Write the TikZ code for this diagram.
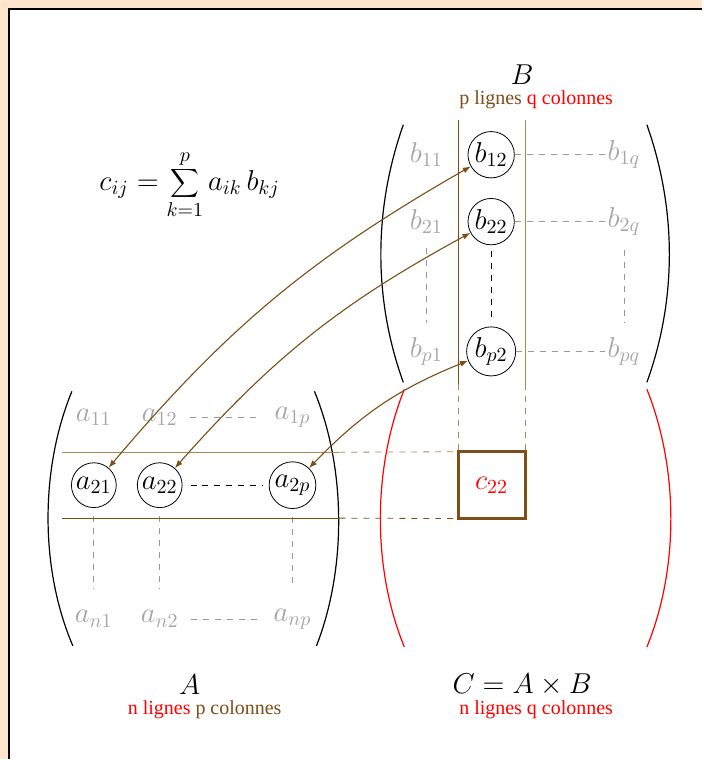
\documentclass[tikz,border=0pt]{standalone}
\usepackage[no-math]{fontspec}
\setmainfont{Liberation Serif}
\usetikzlibrary{positioning, arrows.meta}

\definecolor{peach}{RGB}{255,229,204}
\definecolor{rowbrown}{RGB}{125,78,22}
\definecolor{tanline}{RGB}{175,135,85}

\begin{document}
\begin{tikzpicture}[
        x=0.5pt, y=-0.5pt,
        elt/.style={font=\Large, inner sep=1pt},
        grayelt/.style={elt, text=gray!70},
        circelt/.style={elt, circle, draw=black, inner sep=1pt},
        cbox/.style={rectangle, draw=rowbrown, line width=1.4pt, minimum size=33.5pt, inner sep=0pt, outer sep=0pt, font=\Large, text=red},
        graydash/.style={dashed, gray!80, thin},
        blackdash/.style={dashed, black, thin},
        paren/.style={black, semithick},
        redparen/.style={red, semithick},
        arr/.style={{Latex[length=4pt,width=3pt]}-{Latex[length=4pt,width=3pt]}, rowbrown, line width=0.55pt},
    ]
        % Frame
        \fill[peach] (0,0) rectangle (703,760);
        \fill[white] (9,9) rectangle (703,760);
        \draw[black, line width=1.3pt] (9,760) -- (9,9) -- (703,9);
        \useasboundingbox (0,0) rectangle (703,760);

        % Formula
        \node[font=\Large] (formula) at (190,185) {$\displaystyle c_{ij}=\sum_{k=1}^{p}a_{ik}\,b_{kj}$};

        % Matrix B
        \node[grayelt] (b11) at (427,155) {$b_{11}$};
        \node[circelt] (b12) at (492,155) {$b_{12}$};
        \node[grayelt] (b1q) at (625,155) {$b_{1q}$};
        \node[grayelt] (b21) at (427,222) {$b_{21}$};
        \node[circelt] (b22) at (492,222) {$b_{22}$};
        \node[grayelt] (b2q) at (625,222) {$b_{2q}$};
        \node[grayelt] (bp1) at (427,352) {$b_{p1}$};
        \node[circelt] (bp2) at (492,352) {$b_{p2}$};
        \node[grayelt] (bpq) at (625,352) {$b_{pq}$};

        \draw[graydash] (b12) -- (b1q);
        \draw[graydash] (b22) -- (b2q);
        \draw[graydash] (bp2) -- (bpq);
        \draw[graydash, shorten <=6pt, shorten >=6pt] (b21) -- (bp1);
        \draw[graydash, shorten <=6pt, shorten >=6pt] (b2q) -- (bpq);
        \draw[blackdash, shorten <=3pt, shorten >=3pt] (b22) -- (bp2);

        \draw[paren] (404,125) .. controls (374,210) and (374,300) .. (404,383);
        \draw[paren] (648,125) .. controls (678,210) and (678,300) .. (648,383);

        \node[font=\Large] (Bname) at (523,75) {$B$};
        \node (Bsize) at (537,100) {\textcolor{rowbrown}{p lignes} \textcolor{red}{q colonnes}};

        % Matrix A
        \node[grayelt] (a11) at (94,418) {$a_{11}$};
        \node[grayelt] (a12) at (160,418) {$a_{12}$};
        \node[grayelt] (a1p) at (293,418) {$a_{1p}$};
        \node[circelt] (a21) at (94,486) {$a_{21}$};
        \node[circelt] (a22) at (160,486) {$a_{22}$};
        \node[circelt] (a2p) at (293,486) {$a_{2p}$};
        \node[grayelt] (an1) at (94,620) {$a_{n1}$};
        \node[grayelt] (an2) at (160,620) {$a_{n2}$};
        \node[grayelt] (anp) at (293,620) {$a_{np}$};

        \draw[graydash, shorten <=5pt, shorten >=6pt] (a12) -- (a1p);
        \draw[blackdash, shorten <=4pt, shorten >=3pt] (a22) -- (a2p);
        \draw[graydash, shorten <=5pt, shorten >=6pt] (an2) -- (anp);
        \draw[graydash, shorten <=4pt, shorten >=10pt] (a21) -- (an1);
        \draw[graydash, shorten <=4pt, shorten >=10pt] (a22) -- (an2);
        \draw[graydash, shorten <=4pt, shorten >=10pt] (a2p) -- (anp);

        \draw[paren] (72,392) .. controls (40,470) and (40,570) .. (73,647);
        \draw[paren] (315,392) .. controls (347,470) and (347,570) .. (317,647);

        \node[font=\Large] (Aname) at (190,686) {$A$};
        \node (Asize) at (205,711) {\textcolor{red}{n lignes} \textcolor{rowbrown}{p colonnes}};

        % Matrix C
        \node[cbox] (c22) at (492.5,486) {$c_{22}$};

        \draw[redparen] (405,390) .. controls (373,470) and (373,570) .. (405,648);
        \draw[redparen] (648,390) .. controls (680,470) and (680,570) .. (648,648);

        \node[font=\Large] (Cname) at (523,686) {$C=A\times B$};
        \node[text=red] (Csize) at (537,711) {n lignes q colonnes};

        % Row of A and column of B
        \coordinate (rowtop) at (62,453);
        \coordinate (rowtopend) at (340,453);
        \coordinate (rowbot) at (62,519);
        \coordinate (rowbotend) at (340,519);
        \coordinate (coltop) at (459,120);
        \coordinate (coltopend) at (459,385);
        \coordinate (colright) at (526,120);
        \coordinate (colrightend) at (526,385);

        \draw[tanline, thin] (rowtop) -- (rowtopend);
        \draw[tanline, thin, dashed] (rowtopend) -- (c22.north west);
        \draw[rowbrown, thin] (rowbot) -- (rowbotend);
        \draw[rowbrown, thin, dashed] (rowbotend) -- (c22.south west);
        \draw[rowbrown, thin] (coltop) -- (coltopend);
        \draw[tanline, thin, dashed] (coltopend) -- (c22.north west);
        \draw[tanline, thin] (colright) -- (colrightend);
        \draw[tanline, thin, dashed] (colrightend) -- (c22.north east);

        % Products
        \draw[arr] (a21) to[bend left=10] (b12);
        \draw[arr] (a22) to[bend left=10] (b22);
        \draw[arr] (a2p) to[bend left=12] (bp2);
    \end{tikzpicture}
\end{document}
